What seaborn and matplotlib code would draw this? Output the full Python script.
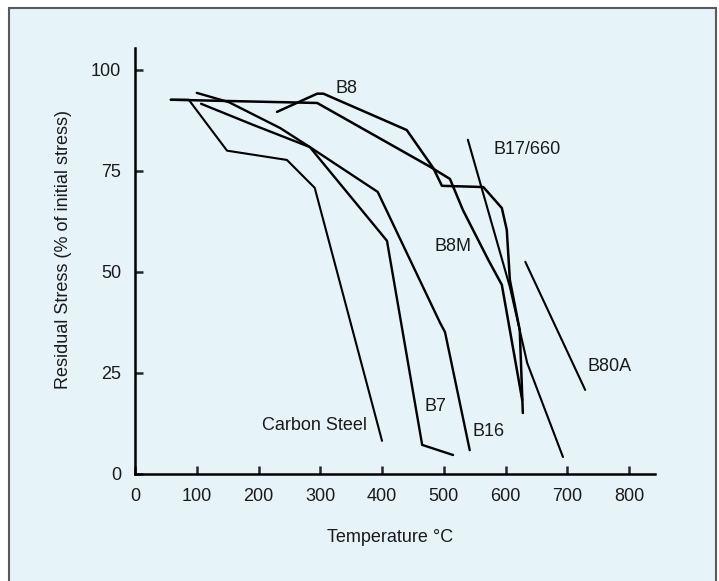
import matplotlib
matplotlib.use("Agg")
import matplotlib.pyplot as plt
import seaborn as sns
from matplotlib.patches import Rectangle

# %% Datos (temperatura en °C, tensión residual en % de la inicial)

carbon_temp = [58, 87, 149, 246, 291, 400]
carbon_stress = [92.6, 92.6, 80.0, 77.7, 70.8, 8.2]

b7_temp = [100, 152, 235, 283, 408, 465, 515]
b7_stress = [94.3, 92.0, 85.6, 80.9, 57.7, 7.2, 4.7]

b16_temp = [107, 191, 283, 393, 494, 502, 542]
b16_stress = [91.6, 86.4, 80.9, 69.8, 37.4, 35.1, 5.9]

b8m_temp = [58, 295, 478, 510, 531, 572, 594, 627]
b8m_stress = [92.6, 91.8, 76.0, 73.0, 65.3, 53.0, 46.8, 18.3]

b8_temp = [230, 295, 305, 440, 483, 497, 564, 594, 602, 607, 623, 628]
b8_stress = [89.6, 94.1, 94.1, 85.1, 75.7, 71.3, 71.0, 65.8, 60.4, 48.0, 35.6, 15.1]

b17_temp = [539, 607, 635, 693]
b17_stress = [82.7, 46.3, 27.5, 4.2]

b80a_temp = [632, 729]
b80a_stress = [52.5, 20.8]

x_ticks = [0, 100, 200, 300, 400, 500, 600, 700, 800]
y_ticks = [0, 25, 50, 75, 100]

# etiquetas: texto, x, y, alineación horizontal
etiquetas = [
    ("B8", 342, 95.5, "center"),
    ("B17/660", 580, 80.4, "left"),
    ("B8M", 515, 56.4, "center"),
    ("B80A", 732, 26.7, "left"),
    ("B7", 487, 16.6, "center"),
    ("B16", 546, 10.6, "left"),
    ("Carbon Steel", 376, 11.9, "right"),
]

# %% Gráfico

sns.set_theme(style="white")
plt.rcParams["font.family"] = ["Liberation Sans", "DejaVu Sans"]

fig = plt.figure(figsize=(7.19, 5.81), dpi=100, facecolor="white")
fondo = Rectangle((9 / 719, -0.02), 707 / 719, 1 - 8 / 581 + 0.02,
                  transform=fig.transFigure, facecolor="#e6f4fa",
                  edgecolor="#5a5a5a", linewidth=1.5, zorder=-10)
fig.patches.append(fondo)
ax = fig.add_axes([135 / 719, 1 - 474 / 581, 520 / 719, 426 / 581])
ax.set_facecolor("none")

curvas = [
    (carbon_temp, carbon_stress, 1.5),
    (b7_temp, b7_stress, 1.7),
    (b16_temp, b16_stress, 1.7),
    (b8m_temp, b8m_stress, 1.8),
    (b8_temp, b8_stress, 1.8),
    (b17_temp, b17_stress, 1.5),
    (b80a_temp, b80a_stress, 1.5),
]
for t, s, lw in curvas:
    sns.lineplot(x=t, y=s, sort=False, estimator=None, color="black", lw=lw, ax=ax)

for texto, x, y, ha in etiquetas:
    ax.text(x, y, texto, ha=ha, va="center", fontsize=13, color="#1a1a1a")

ax.set_xlim(0, 842)
ax.set_ylim(0, 105.4)
ax.set_xticks(x_ticks)
ax.set_yticks(y_ticks)
ax.tick_params(bottom=True, left=True, direction="in", length=6, width=1.8,
               labelsize=13, labelcolor="#1a1a1a", pad=10)
ax.spines[["top", "right"]].set_visible(False)
for lado in ["left", "bottom"]:
    ax.spines[lado].set_linewidth(1.8)
    ax.spines[lado].set_color("black")

ax.set_xlabel("Temperature °C", fontsize=13, color="#1a1a1a")
ax.set_ylabel("Residual Stress (% of initial stress)", fontsize=13, color="#1a1a1a")
ax.xaxis.set_label_coords(0.49, -0.13)
ax.yaxis.set_label_coords(-0.121, 0.526)

fig.savefig("out.png", dpi=100, facecolor="white")
